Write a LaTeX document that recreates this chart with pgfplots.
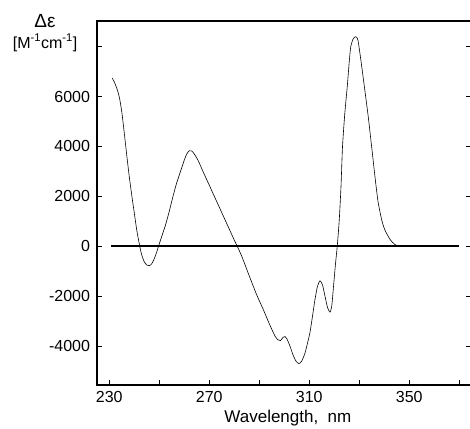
\documentclass[border=0pt]{standalone}
\usepackage{fontspec}
\setmainfont{Liberation Sans}
\usepackage{pgfplots}
\pgfplotsset{compat=1.18}
\begin{document}
\begin{tikzpicture}
\begin{axis}[
  scale only axis,
  width=373.5pt, height=364pt,
  xmin=225.1, xmax=374.5,
  ymin=-5560, ymax=9030,
  xtick={230,250,...,370},
  xticklabels={230,,270,,310,,350,},
  ytick={-4000,-2000,...,8000},
  yticklabels={-4000,-2000,0,2000,4000,6000,},
  xtick pos=bottom,
  tick align=inside,
  major tick length=4.5pt,
  tick style={black, line width=1pt},
  axis line style={line width=1.2pt},
  ticklabel style={font=\fontsize{16}{18}\selectfont},
  yticklabel style={xshift=-3.5pt},
  xticklabel style={yshift=-2.5pt},
  xlabel={Wavelength,\hspace{0.55em}nm},
  xlabel style={at={(axis description cs:0.511,-0.0907)}, anchor=center,
    font=\fontsize{17}{18}\selectfont},
  ylabel={{\fontsize{19}{20}\selectfont Δε}\\{}[M\textsuperscript{-1}cm\textsuperscript{-1}]},
  ylabel style={rotate=-90, at={(axis description cs:-0.139,0.968)},
    anchor=center, align=center, font=\fontsize{16}{21}\selectfont},
]
% zero line
\addplot[black, line width=1.6pt] coordinates {(230.7,0) (370,0)};
% CD spectrum
\addplot[black, line width=0.6pt, smooth, tension=0.4] coordinates {
(231.2,6740) (232,6590) (233,6340) (234,5990) (235,5400)
(236,4550) (237,3650) (238,2800) (239,2050) (240,1350)
(241,650) (242.2,0) (243,-350) (244,-620) (245,-750) (246,-780)
(247,-700) (248,-500) (249,-230) (249.7,0) (251,400) (252.5,850)
(254,1400) (255.5,2000) (257,2550) (258.5,3000) (260,3450) (261,3700)
(262,3830) (263,3820) (264,3700) (265.5,3450) (267.5,3000) (270,2450)
(272.5,1900) (275,1350) (277.5,800) (280,250) (281.2,0) (283,-400)
(286.3,-1264) (289,-1950) (291.6,-2532) (294,-3100) (296.3,-3600)
(297.5,-3750) (298.5,-3780) (299.5,-3650) (300.3,-3620) (301,-3700)
(302.3,-4000) (303.5,-4350) (304.8,-4620) (305.9,-4700) (307,-4600)
(308.3,-4280) (309.5,-3800) (310.3,-3450) (311.3,-2800) (312.3,-2130)
(313.3,-1600) (314.3,-1380) (315.3,-1550) (316.3,-2000) (317.3,-2450)
(318.3,-2640) (319,-2400) (319.6,-1730) (320.5,-700) (321.2,0)
(322,1050) (322.7,2400) (323.3,3990) (324.2,5300) (325.2,6400)
(326,7400) (326.6,8000) (327.5,8300) (328.5,8400) (329.5,8250)
(331,7200) (332.3,6200) (333.6,5190) (335,3950) (336.3,2780)
(337.5,1800) (339,1045) (340,720) (341,500) (342.5,250) (344,90)
(345.6,0)
};
\end{axis}
\pgfresetboundingbox
\path[use as bounding box] ([shift={(-97pt,-44pt)}]current axis.south west)
  rectangle ([shift={(-0.5pt,21pt)}]current axis.north east);
\end{tikzpicture}
\end{document}
